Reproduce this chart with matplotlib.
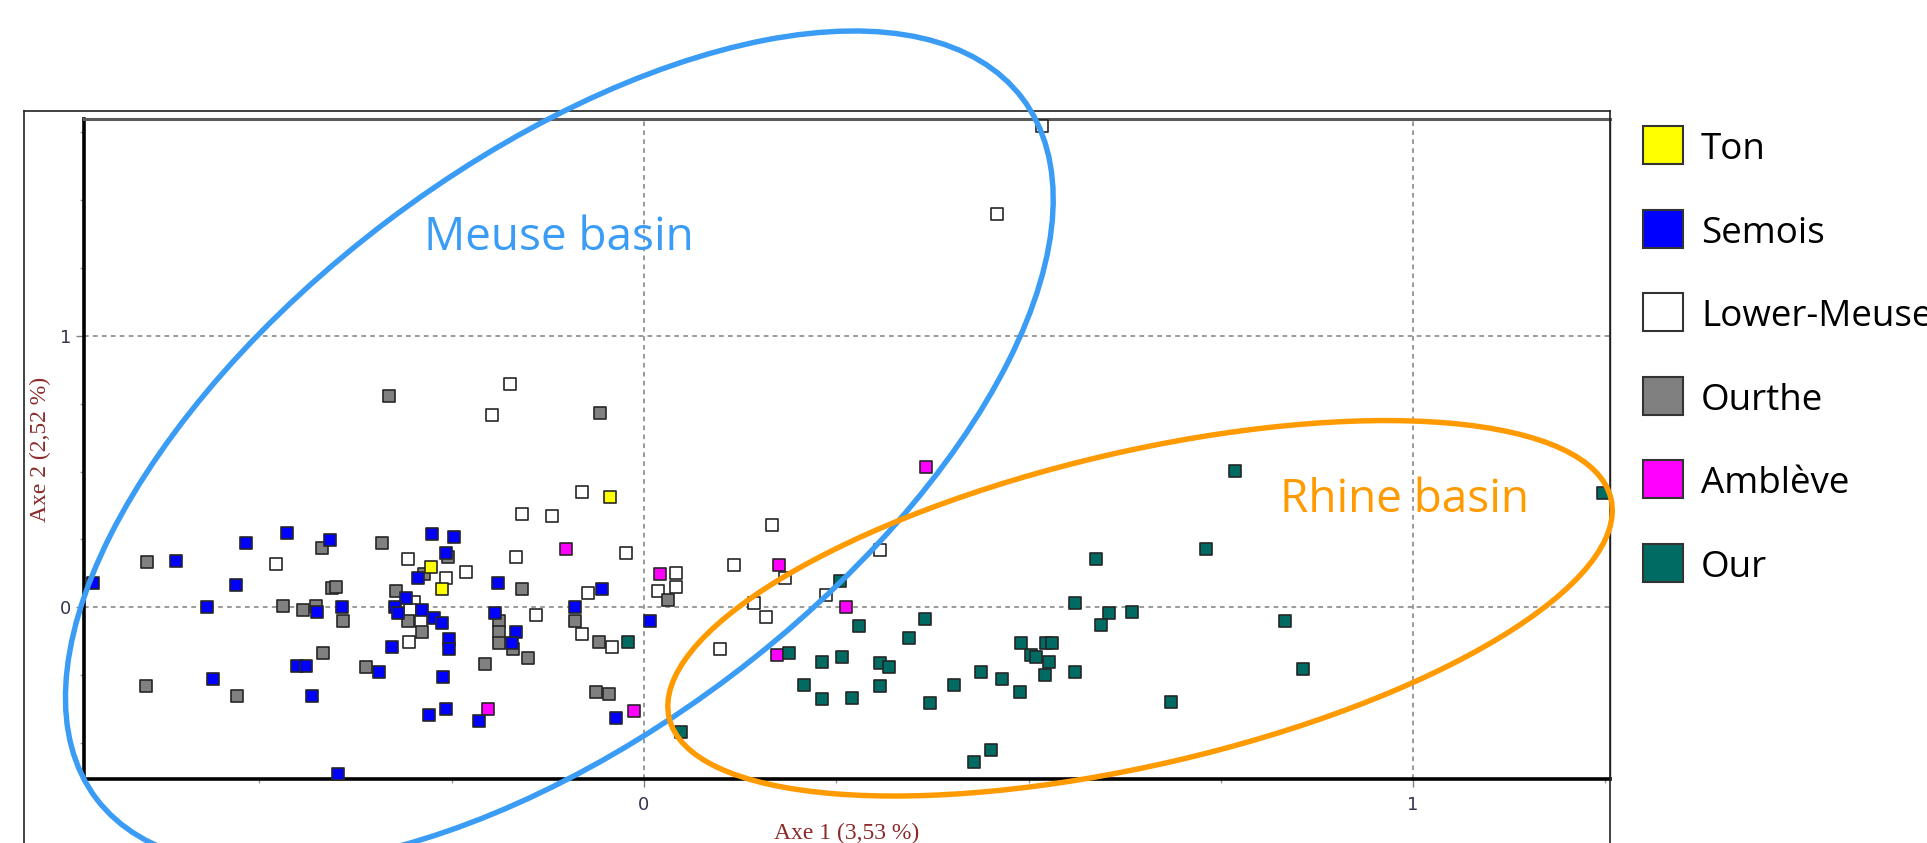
import matplotlib
matplotlib.use("Agg")
import matplotlib.pyplot as plt
from matplotlib.patches import Ellipse, Rectangle
from matplotlib.lines import Line2D
from matplotlib.transforms import IdentityTransform
from matplotlib.ticker import FixedLocator, MultipleLocator

# ---------------------------------------------------------------- data
groups = ["Ton", "Semois", "Lower-Meuse", "Ourthe", "Amblève", "Our"]
group_colors = ["#ffff00", "#0000ff", "#ffffff", "#808080", "#ff00ff", "#006b63"]

ton_x = [-0.277, -0.263, -0.044]
ton_y = [0.150, 0.068, 0.407]

semois_x = [-0.716, -0.609, -0.518, -0.464, -0.531, -0.568, -0.560, -0.408,
            -0.425, -0.393, -0.451, -0.439, -0.432, -0.344, -0.398, -0.328,
            -0.276, -0.247, -0.257, -0.294, -0.309, -0.324, -0.320, -0.288,
            -0.273, -0.262, -0.253, -0.253, -0.261, -0.258, -0.279, -0.214,
            -0.190, -0.193, -0.166, -0.172, -0.055, -0.089, 0.008, -0.036]
semois_y = [0.088, 0.171, 0.235, 0.275, 0.081, 0.000, -0.264, 0.248,
            -0.016, 0.000, -0.216, -0.216, -0.327, -0.237, -0.615, -0.147,
            0.270, 0.260, 0.201, 0.109, 0.033, 0.000, -0.022, -0.010,
            -0.041, -0.057, -0.118, -0.155, -0.258, -0.375, -0.397, -0.418,
            0.088, -0.022, -0.092, -0.133, 0.068, 0.000, -0.050, -0.409]

lower_meuse_x = [-0.174, -0.198, -0.159, -0.120, -0.166, -0.140, -0.479, -0.307,
                 -0.231, -0.258, -0.299, -0.304, -0.290, -0.305, -0.081, -0.023,
                 0.042, 0.042, 0.018, -0.073, -0.081, -0.042, 0.099, 0.117,
                 0.167, 0.183, 0.143, 0.159, 0.307, 0.237, 0.517, 0.459]
lower_meuse_y = [0.822, 0.710, 0.344, 0.337, 0.184, -0.028, 0.158, 0.178,
                 0.129, 0.109, 0.021, -0.012, -0.049, -0.127, 0.426, 0.199,
                 0.125, 0.076, 0.061, 0.054, -0.098, -0.147, -0.154, 0.156,
                 0.302, 0.107, 0.017, -0.037, 0.211, 0.045, 1.772, 1.450]

ourthe_x = [-0.331, -0.159, -0.646, -0.647, -0.529, -0.419, -0.341, -0.469,
            -0.443, -0.427, -0.406, -0.400, -0.391, -0.417, -0.362, -0.255,
            -0.286, -0.323, -0.307, -0.289, -0.206, -0.189, -0.189, -0.189,
            -0.170, -0.151, -0.057, 0.031, -0.089, -0.059, -0.062, -0.046]
ourthe_y = [0.779, 0.068, 0.165, -0.291, -0.326, 0.220, 0.235, 0.005,
            -0.010, 0.005, 0.070, 0.076, -0.050, -0.167, -0.222, 0.184,
            0.123, 0.060, -0.049, -0.092, -0.209, -0.050, -0.090, -0.133,
            -0.154, -0.188, 0.717, 0.027, -0.049, -0.127, -0.311, -0.319]

ambleve_x = [-0.101, -0.203, 0.021, -0.013, 0.175, 0.173, 0.367, 0.263]
ambleve_y = [0.214, -0.375, 0.123, -0.381, 0.156, -0.176, 0.516, 0.000]

our_x = [-0.021, 0.048, 0.188, 0.255, 0.279, 0.365, 0.344, 0.232, 0.258,
         0.307, 0.318, 0.208, 0.232, 0.271, 0.307, 0.403, 0.372, 0.438,
         0.466, 0.489, 0.490, 0.503, 0.510, 0.526, 0.521, 0.523, 0.531,
         0.560, 0.560, 0.429, 0.451, 0.768, 0.731, 0.588, 0.605, 0.594,
         0.635, 0.685, 0.833, 0.857, 1.247]
our_y = [-0.127, -0.458, -0.167, 0.095, -0.071, -0.044, -0.114, -0.203, -0.182,
         -0.206, -0.222, -0.286, -0.339, -0.333, -0.292, -0.286, -0.354, -0.237,
         -0.264, -0.313, -0.133, -0.176, -0.184, -0.203, -0.249, -0.133, -0.133,
         0.015, -0.237, -0.569, -0.526, 0.502, 0.214, 0.179, -0.022, -0.064,
         -0.016, -0.348, -0.050, -0.229, 0.421]

series = {
    "Ton": (ton_x, ton_y),
    "Semois": (semois_x, semois_y),
    "Lower-Meuse": (lower_meuse_x, lower_meuse_y),
    "Ourthe": (ourthe_x, ourthe_y),
    "Amblève": (ambleve_x, ambleve_y),
    "Our": (our_x, our_y),
}
draw_order = ["Lower-Meuse", "Ourthe", "Semois", "Ton", "Amblève", "Our"]

# ---------------------------------------------------------------- figure
W, H = 1927, 843
fig = plt.figure(figsize=(W / 100, H / 100), dpi=100)
fig.patch.set_facecolor("white")

ax_left, ax_right, ax_top, ax_bottom = 84, 1610, 119, 779
ax = fig.add_axes([ax_left / W, 1 - ax_bottom / H,
                   (ax_right - ax_left) / W, (ax_bottom - ax_top) / H])
ax.set_xlim(-0.728, 1.256)
ax.set_ylim(-0.633, 1.799)

color_of = dict(zip(groups, group_colors))
for name in draw_order:
    xs, ys = series[name]
    ax.scatter(xs, ys, marker="s", s=68, c=color_of[name],
               edgecolors="#262626", linewidths=1.2, zorder=3, clip_on=True)

# axes, ticks and grid
for a in (ax.xaxis, ax.yaxis):
    a.set_major_locator(FixedLocator([0, 1]))
    a.set_minor_locator(MultipleLocator(0.25))
ax.grid(which="major", linestyle=(0, (2.4, 2.2)), color="#9a9a9a", linewidth=1.4, zorder=1)
ax.tick_params(which="major", length=6, width=1.0, color="#808080",
               labelsize=13, labelcolor="#34344f")
ax.tick_params(axis="x", which="major", pad=6)
ax.tick_params(axis="y", which="major", pad=3)
ax.tick_params(which="minor", length=3, width=1.0, color="#9a9a9a")
for lab in ax.get_xticklabels() + ax.get_yticklabels():
    lab.set_fontfamily("DejaVu Sans")

ax.spines["left"].set_linewidth(2.6)
ax.spines["bottom"].set_linewidth(2.6)
ax.spines["left"].set_color("black")
ax.spines["bottom"].set_color("black")
ax.spines["top"].set_linewidth(2.2)
ax.spines["top"].set_color("#5a5a5a")
ax.spines["right"].set_linewidth(1.0)
ax.spines["right"].set_color("#222222")

label_color = "#8b2a2a"
ax.set_xlabel("Axe 1 (3,53 %)", fontfamily="Liberation Serif", fontsize=17, color=label_color)
ax.set_ylabel("Axe 2 (2,52 %)", fontfamily="Liberation Serif", fontsize=17, color=label_color)
ax.xaxis.set_label_coords(0.5, -(833 - ax_bottom) / (ax_bottom - ax_top))
ax.xaxis.label.set_va("center")
ax.yaxis.set_label_coords((40 - ax_left) / (ax_right - ax_left), 0.5)
ax.yaxis.label.set_va("center")
ax.yaxis.label.set_ha("center")

# outer frame around the plot panel
frame_kw = dict(transform=fig.transFigure, color="#222222", linewidth=1.2)
fig.add_artist(Line2D([24 / W, 24 / W], [0, 1 - 111 / H], **frame_kw))
fig.add_artist(Line2D([24 / W, ax_right / W], [1 - 111 / H, 1 - 111 / H], **frame_kw))
fig.add_artist(Line2D([ax_right / W, ax_right / W], [0, 1 - 111 / H], **frame_kw))

# basin outlines
meuse_blue = "#3a9cf5"
rhine_orange = "#ff9a00"
basins = [
    ("Meuse basin", (-0.110, 0.585), 1161, 570, 37.1, meuse_blue, (424, 250)),
    ("Rhine basin", (0.645, -0.004), 967, 313, 13.1, rhine_orange, (1280, 512)),
]
for text, centre, width, height, angle, col, (tx, ty) in basins:
    cx, cy = ax.transData.transform(centre)
    ell = Ellipse((cx, cy), width=width, height=height, angle=angle,
                  transform=IdentityTransform(), fill=False, edgecolor=col,
                  linewidth=3.9, clip_on=False, zorder=6)
    fig.add_artist(ell)
    fig.text(tx / W, 1 - ty / H, text, color=col, fontsize=33,
             fontfamily="Open Sans", ha="left", va="baseline")

# legend
for i, (name, col) in enumerate(zip(groups, group_colors)):
    cy = 145 + i * 83.6
    fig.add_artist(Rectangle((1643 / W, 1 - (cy + 19) / H), 40 / W, 38 / H,
                             transform=fig.transFigure, facecolor=col,
                             edgecolor="#333333", linewidth=1.5))
    fig.text(1701 / W, 1 - (cy + 14) / H, name, fontsize=26.5, fontfamily="Open Sans",
             color="black", ha="left", va="baseline")

fig.savefig("out.png", dpi=100)
